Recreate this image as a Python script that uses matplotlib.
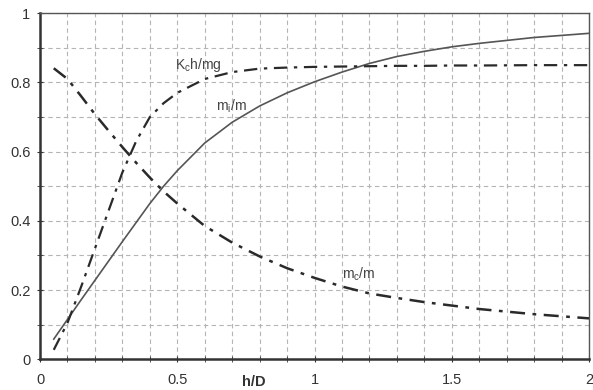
import matplotlib
matplotlib.use("Agg")
import matplotlib.pyplot as plt
from matplotlib.ticker import MultipleLocator, FormatStrFormatter

plt.rcParams['font.family'] = ['Liberation Sans', 'DejaVu Sans']
plt.rcParams['mathtext.fontset'] = 'custom'
plt.rcParams['mathtext.rm'] = 'Liberation Sans'
plt.rcParams['mathtext.it'] = 'Liberation Sans'

# valores
h_D = [0.05, 0.1, 0.15, 0.2, 0.25, 0.3, 0.35, 0.4, 0.45, 0.5, 0.6, 0.7, 0.8, 0.9,
       1.0, 1.1, 1.2, 1.3, 1.4, 1.5, 1.6, 1.8, 2.0]
m_i = [0.058, 0.115, 0.172, 0.228, 0.284, 0.34, 0.395, 0.45, 0.50, 0.545, 0.625,
       0.685, 0.732, 0.77, 0.802, 0.83, 0.855, 0.875, 0.89, 0.903, 0.913, 0.93, 0.942]
k_c = [0.027, 0.105, 0.21, 0.32, 0.43, 0.54, 0.63, 0.70, 0.74, 0.77, 0.81, 0.83,
       0.84, 0.843, 0.845, 0.846, 0.847, 0.848, 0.848, 0.849, 0.849, 0.85, 0.85]
m_c = [0.841, 0.81, 0.76, 0.708, 0.66, 0.613, 0.568, 0.525, 0.485, 0.45, 0.385, 0.337,
       0.297, 0.263, 0.235, 0.21, 0.19, 0.177, 0.165, 0.155, 0.145, 0.13, 0.118]

fig = plt.figure(figsize=(5.93, 3.90), dpi=100)
ax = fig.add_axes([0.0675, 0.079, 0.926, 0.887])

ax.plot(h_D, m_i, color='#555555', lw=1.2, ls='-')
ax.plot(h_D, k_c, color='#2a2a2a', lw=1.6, ls=(0, (6, 3, 1.5, 3)))
ax.plot(h_D, m_c, color='#2a2a2a', lw=1.8, ls=(0, (6, 3, 1.5, 3)))

ax.text(0.49, 0.85, r'K$_\mathregular{c}$h/mg', fontsize=10, color='#444444', va='center')
ax.text(0.64, 0.73, r'm$_\mathregular{i}$/m', fontsize=10, color='#444444', va='center')
ax.text(1.10, 0.244, r'm$_\mathregular{c}$/m', fontsize=10, color='#444444', va='center')

ax.set_xlim(0, 2)
ax.set_ylim(0, 1)
ax.xaxis.set_major_locator(MultipleLocator(0.5))
ax.xaxis.set_minor_locator(MultipleLocator(0.1))
ax.yaxis.set_major_locator(MultipleLocator(0.2))
ax.yaxis.set_minor_locator(MultipleLocator(0.1))
ax.xaxis.set_major_formatter(FormatStrFormatter('%g'))
ax.yaxis.set_major_formatter(FormatStrFormatter('%g'))

ax.grid(True, which='both', color='#b5b5b5', ls=(0, (4, 3)), lw=0.8)
ax.set_axisbelow(True)
ax.tick_params(which='both', direction='inout', length=4, color='#333333',
               labelsize=10.5, labelcolor='#333333')
ax.tick_params(axis='x', which='both', pad=8)
ax.tick_params(axis='y', which='both', pad=5)

for s in ['left', 'bottom']:
    ax.spines[s].set_linewidth(1.8)
    ax.spines[s].set_color('#333333')
for s in ['top', 'right']:
    ax.spines[s].set_linewidth(1.0)
    ax.spines[s].set_color('#555555')

ax.set_xlabel('h/D', fontsize=10.5, fontweight='bold', color='#333333')
ax.xaxis.set_label_coords(0.39, -0.045)

fig.savefig('out.png', dpi=100)
